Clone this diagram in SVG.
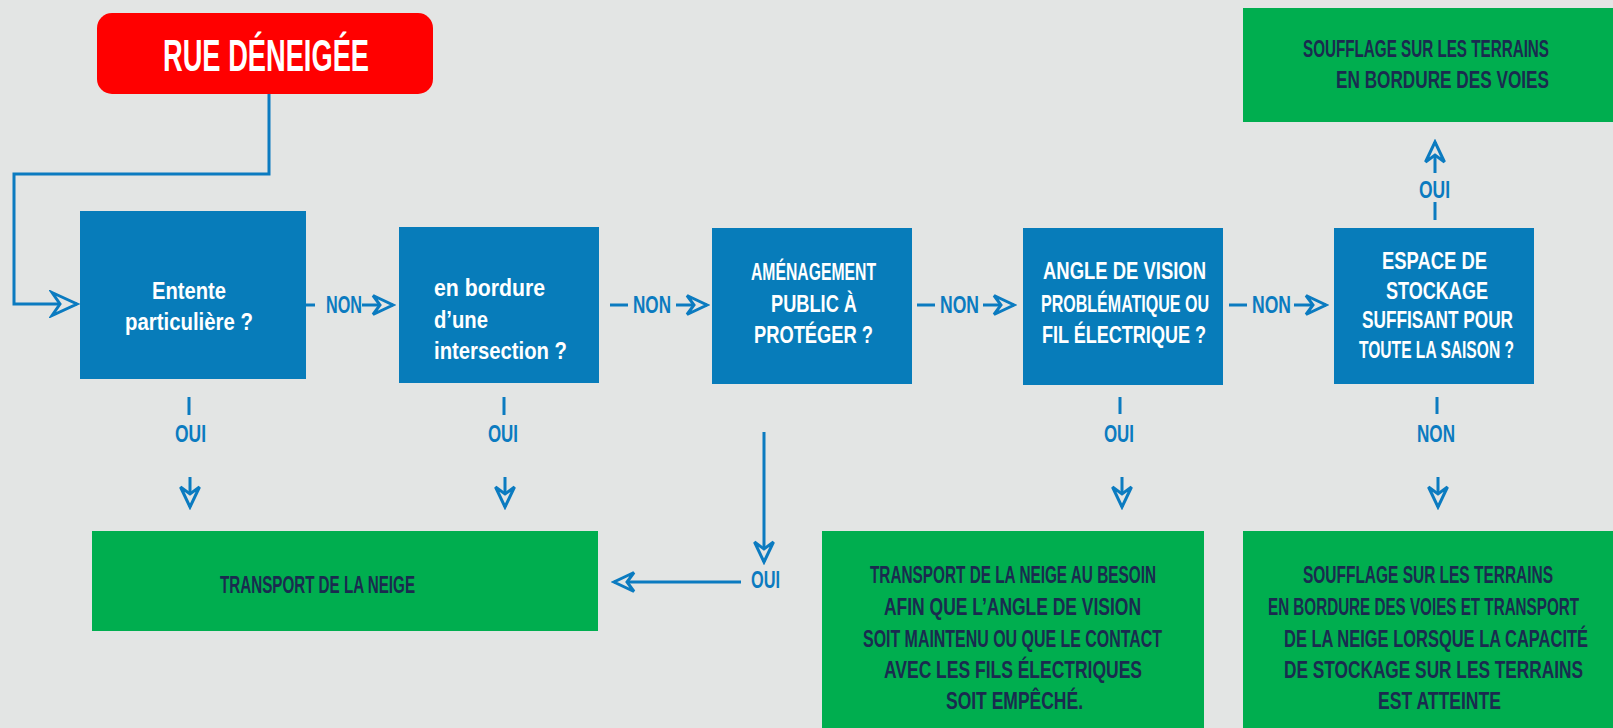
<svg xmlns="http://www.w3.org/2000/svg" width="1613" height="728" viewBox="0 0 1613 728">
<style>
.bg{fill:#E3E5E4}
.q{fill:#077CBA}
.g{fill:#00AE4F}
.wt{fill:#FFFFFF;font-family:"Liberation Sans",Arial,sans-serif;font-weight:bold;font-size:24px}
.gt{fill:#1A2B4F;font-family:"Liberation Sans",Arial,sans-serif;font-weight:bold;font-size:24px}
.lb{fill:#0B7BC0;font-family:"Liberation Sans",Arial,sans-serif;font-weight:bold;font-size:24px}
.ln{stroke:#0B7BC0;stroke-width:3;fill:none}
</style>
<defs>
<marker id="ah" viewBox="-23 -12 26 24" refX="0" refY="0" markerWidth="26" markerHeight="24" markerUnits="userSpaceOnUse" orient="auto">
<path d="M-20,-9.5 L0,0 L-20,9.5 L-13,0 Z" fill="#E3E5E4" stroke="#0B7BC0" stroke-width="3" stroke-linejoin="miter"/>
</marker>
<marker id="ahb" viewBox="-28 -14 31 28" refX="0" refY="0" markerWidth="31" markerHeight="28" markerUnits="userSpaceOnUse" orient="auto">
<path d="M-25,-11.5 L0,0 L-25,11.5 L-17,0 Z" fill="#E3E5E4" stroke="#0B7BC0" stroke-width="3" stroke-linejoin="miter"/>
</marker>
</defs>
<rect class="bg" x="0" y="0" width="1613" height="728"/>

<g id="start">
<rect x="97" y="13" width="336" height="81" rx="15" ry="15" fill="#FF0000"/>
<text class="wt" x="163" y="71" style="font-size:44px" textLength="206" lengthAdjust="spacingAndGlyphs">RUE DÉNEIGÉE</text>
</g>

<g id="q1">
<rect class="q" x="80" y="211" width="226" height="168"/>
<text class="wt" x="152" y="299" textLength="74" lengthAdjust="spacingAndGlyphs">Entente</text>
<text class="wt" x="125" y="330" textLength="128" lengthAdjust="spacingAndGlyphs">particulière ?</text>
</g>

<g id="q2">
<rect class="q" x="399" y="227" width="200" height="156"/>
<text class="wt" x="434" y="296" textLength="111" lengthAdjust="spacingAndGlyphs">en bordure</text>
<text class="wt" x="434" y="328" textLength="54" lengthAdjust="spacingAndGlyphs">d’une</text>
<text class="wt" x="434" y="359" textLength="133" lengthAdjust="spacingAndGlyphs">intersection ?</text>
</g>

<g id="q3">
<rect class="q" x="712" y="228" width="200" height="156"/>
<text class="wt" x="751" y="280" textLength="125" lengthAdjust="spacingAndGlyphs">AMÉNAGEMENT</text>
<text class="wt" x="771" y="312" textLength="86" lengthAdjust="spacingAndGlyphs">PUBLIC À</text>
<text class="wt" x="754" y="343" textLength="119" lengthAdjust="spacingAndGlyphs">PROTÉGER ?</text>
</g>

<g id="q4">
<rect class="q" x="1023" y="228" width="200" height="157"/>
<text class="wt" x="1043" y="279" textLength="163" lengthAdjust="spacingAndGlyphs">ANGLE DE VISION</text>
<text class="wt" x="1041" y="312" textLength="168" lengthAdjust="spacingAndGlyphs">PROBLÉMATIQUE OU</text>
<text class="wt" x="1042" y="343" textLength="164" lengthAdjust="spacingAndGlyphs">FIL ÉLECTRIQUE ?</text>
</g>

<g id="q5">
<rect class="q" x="1334" y="228" width="200" height="156"/>
<text class="wt" x="1382" y="269" textLength="105" lengthAdjust="spacingAndGlyphs">ESPACE DE</text>
<text class="wt" x="1386" y="299" textLength="102" lengthAdjust="spacingAndGlyphs">STOCKAGE</text>
<text class="wt" x="1362" y="328" textLength="151" lengthAdjust="spacingAndGlyphs">SUFFISANT POUR</text>
<text class="wt" x="1359" y="358" textLength="155" lengthAdjust="spacingAndGlyphs">TOUTE LA SAISON ?</text>
</g>

<g id="r_top">
<rect class="g" x="1243" y="8" width="370" height="114"/>
<text class="gt" x="1303" y="57" textLength="246" lengthAdjust="spacingAndGlyphs">SOUFFLAGE SUR LES TERRAINS</text>
<text class="gt" x="1336" y="88" textLength="213" lengthAdjust="spacingAndGlyphs">EN BORDURE DES VOIES</text>
</g>

<g id="r_transport">
<rect class="g" x="92" y="531" width="506" height="100"/>
<text class="gt" x="220" y="593" textLength="195" lengthAdjust="spacingAndGlyphs">TRANSPORT DE LA NEIGE</text>
</g>

<g id="r_besoin">
<rect class="g" x="822" y="531" width="382" height="197"/>
<text class="gt" x="870" y="583" textLength="286" lengthAdjust="spacingAndGlyphs">TRANSPORT DE LA NEIGE AU BESOIN</text>
<text class="gt" x="884" y="615" textLength="257" lengthAdjust="spacingAndGlyphs">AFIN QUE L’ANGLE DE VISION</text>
<text class="gt" x="863" y="647" textLength="299" lengthAdjust="spacingAndGlyphs">SOIT MAINTENU OU QUE LE CONTACT</text>
<text class="gt" x="884" y="678" textLength="258" lengthAdjust="spacingAndGlyphs">AVEC LES FILS ÉLECTRIQUES</text>
<text class="gt" x="946" y="709" textLength="137" lengthAdjust="spacingAndGlyphs">SOIT EMPÊCHÉ.</text>
</g>

<g id="r_soufflage">
<rect class="g" x="1243" y="531" width="370" height="197"/>
<text class="gt" x="1303" y="583" textLength="250" lengthAdjust="spacingAndGlyphs">SOUFFLAGE SUR LES TERRAINS</text>
<text class="gt" x="1268" y="615" textLength="311" lengthAdjust="spacingAndGlyphs">EN BORDURE DES VOIES ET TRANSPORT</text>
<text class="gt" x="1284" y="647" textLength="304" lengthAdjust="spacingAndGlyphs">DE LA NEIGE LORSQUE LA CAPACITÉ</text>
<text class="gt" x="1284" y="678" textLength="299" lengthAdjust="spacingAndGlyphs">DE STOCKAGE SUR LES TERRAINS</text>
<text class="gt" x="1378" y="709" textLength="123" lengthAdjust="spacingAndGlyphs">EST ATTEINTE</text>
</g>

<g id="connectors">
<!-- entry -->
<path class="ln" d="M269,94 V174 H14 V304 H77" marker-end="url(#ahb)"/>
<!-- NON horizontal -->
<line class="ln" x1="306" y1="305" x2="315" y2="305"/>
<text class="lb" x="326" y="313" textLength="36" lengthAdjust="spacingAndGlyphs">NON</text>
<line class="ln" x1="362" y1="305" x2="393" y2="305" marker-end="url(#ah)"/>

<line class="ln" x1="610" y1="305" x2="628" y2="305"/>
<text class="lb" x="633" y="313" textLength="38" lengthAdjust="spacingAndGlyphs">NON</text>
<line class="ln" x1="676" y1="305" x2="707" y2="305" marker-end="url(#ah)"/>

<line class="ln" x1="917" y1="305" x2="935" y2="305"/>
<text class="lb" x="940" y="313" textLength="39" lengthAdjust="spacingAndGlyphs">NON</text>
<line class="ln" x1="983" y1="305" x2="1014" y2="305" marker-end="url(#ah)"/>

<line class="ln" x1="1229" y1="305" x2="1247" y2="305"/>
<text class="lb" x="1252" y="313" textLength="39" lengthAdjust="spacingAndGlyphs">NON</text>
<line class="ln" x1="1294" y1="305" x2="1326" y2="305" marker-end="url(#ah)"/>

<!-- OUI down q1 -->
<line class="ln" x1="189" y1="397" x2="189" y2="415"/>
<text class="lb" x="175" y="442" textLength="31" lengthAdjust="spacingAndGlyphs">OUI</text>
<line class="ln" x1="190" y1="477" x2="190" y2="507" marker-end="url(#ah)"/>
<!-- OUI down q2 -->
<line class="ln" x1="504" y1="397" x2="504" y2="415"/>
<text class="lb" x="488" y="442" textLength="30" lengthAdjust="spacingAndGlyphs">OUI</text>
<line class="ln" x1="505" y1="477" x2="505" y2="507" marker-end="url(#ah)"/>
<!-- q3 OUI -->
<line class="ln" x1="764" y1="432" x2="764" y2="562" marker-end="url(#ah)"/>
<text class="lb" x="751" y="588" textLength="29" lengthAdjust="spacingAndGlyphs">OUI</text>
<line class="ln" x1="741" y1="582" x2="614" y2="582" marker-end="url(#ah)"/>
<!-- q4 OUI -->
<line class="ln" x1="1120" y1="397" x2="1120" y2="414"/>
<text class="lb" x="1104" y="442" textLength="30" lengthAdjust="spacingAndGlyphs">OUI</text>
<line class="ln" x1="1122" y1="477" x2="1122" y2="507" marker-end="url(#ah)"/>
<!-- q5 NON -->
<line class="ln" x1="1437" y1="397" x2="1437" y2="414"/>
<text class="lb" x="1417" y="442" textLength="38" lengthAdjust="spacingAndGlyphs">NON</text>
<line class="ln" x1="1438" y1="477" x2="1438" y2="507" marker-end="url(#ah)"/>
<!-- q5 OUI up -->
<line class="ln" x1="1435" y1="220" x2="1435" y2="202"/>
<text class="lb" x="1419" y="198" textLength="31" lengthAdjust="spacingAndGlyphs">OUI</text>
<line class="ln" x1="1435" y1="173" x2="1435" y2="142" marker-end="url(#ah)"/>
</g>
</svg>
